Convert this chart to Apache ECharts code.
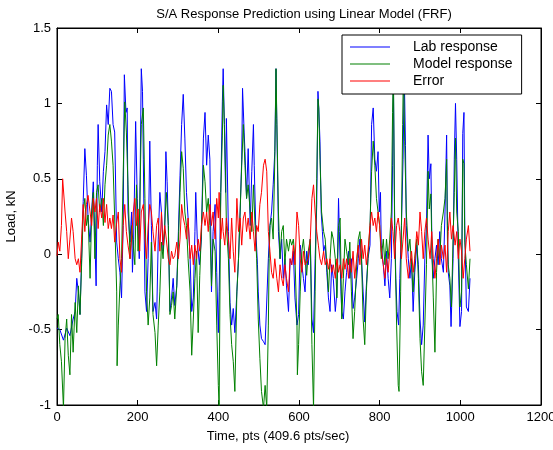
<!DOCTYPE html>
<html><head><meta charset="utf-8">
<script src="https://cdn.jsdelivr.net/npm/echarts@6/dist/echarts.min.js"></script>
<style>html,body{margin:0;padding:0;background:#fff}#c{width:553px;height:450px}</style>
</head><body><div id="c"></div>
<script>
const titleText = 'S/A Response Prediction using Linear Model (FRF)';
const xName = 'Time, pts (409.6 pts/sec)';
const yName = 'Load, kN';
const seriesNames = ['Lab response', 'Model response', 'Error'];
const xTicks = [0, 200, 400, 600, 800, 1000, 1200];
const yTicks = [-1, -0.5, 0, 0.5, 1, 1.5];

const labResponse = [[0,-0.49],[7,-0.50],[16,-0.57],[24,-0.49],[32,-0.54],[40,-0.43],[45,-0.38],[49,-0.16],[53,-0.25],[57,-0.40],[61,-0.03],[65,0.35],[69,0.70],[73,0.52],[77,0.24],[82,0.08],[86,0.28],[90,0.48],[94,0.10],[97,-0.21],[100,0.59],[102,0.86],[106,0.48],[111,0.28],[115,0.55],[119,0.68],[123,0.99],[127,0.86],
[131,1.10],[135,1.08],[139,0.86],[143,0.81],[148,0.08],[152,-0.03],[156,-0.12],[160,-0.29],[164,0.19],[167,1.19],[171,0.94],[174,0.97],[176,0.28],[181,0.08],[185,0.28],[187,-0.12],[190,0.10],[195,0.88],[199,0.37],[204,-0.03],[209,1.23],[212,1.08],[214,0.63],[218,-0.25],[222,-0.38],[226,-0.03],[230,0.75],[234,0.19],[238,-0.38],[243,-0.32],[247,-0.43],[251,0.10],[255,0.41],[259,0.28],[263,0.02],[267,0.15],[270,0.68],[273,0.48],[276,0.19],
[280,-0.38],[284,-0.29],[288,-0.16],[292,-0.34],[297,-0.21],[301,0.15],[305,0.52],[309,0.86],[313,1.06],[317,0.77],[321,0.41],[325,0.24],[330,-0.03],[334,-0.38],[338,-0.29],[342,0.15],[344,0.41],[348,0.08],[353,-0.07],[358,0.10],[363,0.77],[367,0.94],[371,0.59],[375,0.79],[379,0.63],[383,-0.25],[387,0.15],[392,0.33],[396,-0.12],[400,-0.52],[402,-0.25],[406,0.41],[410,1.01],[412,1.23],[415,0.86],[418,0.41],[420,0.90],[425,0.15],
[429,-0.32],[433,-0.47],[437,-0.36],[441,-0.52],[446,-0.25],[450,-0.03],[454,0.28],[458,0.63],[460,1.10],[464,0.81],[466,0.68],[470,0.37],[474,0.70],[479,0.19],[483,0.55],[487,0.86],[489,0.59],[493,0.15],[497,-0.07],[499,-0.25],[503,-0.47],[507,-0.56],[512,-0.58],[516,-0.60],[520,-0.60],[524,-0.03],[528,0.19],[532,0.28],[536,0.46],[540,0.68],[543,1.23],[545,0.86],[549,0.15],[553,-0.03],[557,0.10],[561,-0.16],[565,-0.03],[569,-0.21],[574,-0.38],
[578,-0.03],[582,-0.07],[586,0.02],[590,-0.29],[595,-0.47],[599,-0.40],[603,0.06],[607,-0.07],[611,-0.16],[615,-0.25],[619,0.02],[623,-0.07],[628,0.10],[632,-0.43],[636,-0.52],[640,-0.03],[644,0.33],[647,1.08],[649,0.97],[652,0.75],[655,0.28],[658,0.15],[661,0.02],[665,0.06],[669,-0.12],[673,-0.29],[677,-0.38],[681,-0.07],[685,-0.16],[690,-0.38],[694,-0.25],[698,0.37],[700,0.15],[704,-0.25],[706,-0.38],[710,-0.43],[714,-0.25],[718,-0.12],[723,0.02],
[726,-0.16],[730,-0.03],[734,-0.36],[738,-0.29],[743,-0.16],[747,-0.03],[751,0.10],[755,-0.03],[759,-0.25],[763,-0.45],[767,-0.21],[771,-0.03],[776,0.06],[780,0.86],[784,0.97],[788,0.63],[792,0.55],[796,0.68],[799,0.28],[802,0.41],[804,0.06],[809,-0.07],[813,-0.21],[817,0.02],[821,-0.16],[825,-0.29],[829,-0.03],[832,0.59],[834,1.17],[837,0.28],[840,-0.16],[843,-0.38],[847,-0.47],[850,-0.16],[854,0.19],[858,0.63],[861,1.19],[864,0.72],[866,0.19],[871,-0.03],
[875,-0.16],[879,-0.03],[883,-0.38],[887,-0.12],[892,0.06],[896,-0.07],[900,-0.43],[904,-0.60],[908,-0.47],[912,-0.03],[916,0.19],[920,0.79],[923,0.50],[927,0.60],[930,-0.03],[933,-0.16],[937,-0.03],[941,0.06],[945,-0.07],[949,0.15],[953,-0.03],[958,-0.12],[962,0.28],[966,0.79],[968,0.19],[970,-0.12],[974,-0.21],[977,-0.48],[982,-0.03],[985,0.63],[988,1.00],[991,0.63],[995,-0.03],[999,-0.48],[1003,-0.38],[1006,0.80],[1009,0.94],[1011,0.19],[1015,-0.35],[1020,-0.38],[1024,-0.16]];

const modelResponse = [[0,-0.43],[3,-0.40],[7,-0.60],[11,-0.71],[16,-1.02],[20,-0.56],[24,-0.43],[28,-0.67],[32,-0.80],[36,-0.40],[40,-0.65],[45,-0.32],[49,-0.52],[53,-0.21],[57,-0.40],[61,-0.07],[65,0.28],[69,0.37],[73,0.19],[77,0.26],[82,-0.16],[86,0.28],[90,0.41],[94,-0.03],[98,0.41],[102,0.46],[106,0.28],[111,0.37],[115,0.19],[119,0.46],[123,0.59],[127,0.79],
[131,0.86],[135,0.75],[139,0.59],[143,0.24],[148,-0.25],[149,-0.74],[152,-0.47],[156,-0.21],[160,-0.03],[164,0.52],[168,1.01],[172,0.81],[176,0.46],[181,-0.03],[185,0.19],[189,0.06],[193,-0.07],[197,0.46],[201,0.02],[205,0.28],[209,0.86],[214,0.97],[218,0.37],[222,-0.25],[226,-0.47],[230,-0.29],[234,0.08],[238,-0.40],[243,-0.52],[247,-0.74],[251,-0.47],[255,-0.25],[259,0.08],[263,-0.03],[267,0.19],[271,0.41],[276,0.19],
[280,-0.40],[284,-0.34],[288,-0.25],[292,-0.43],[297,-0.21],[301,0.08],[305,0.41],[309,0.68],[313,0.57],[317,0.28],[321,0.19],[325,-0.03],[330,-0.25],[334,-0.67],[338,-0.43],[342,-0.16],[346,0.02],[350,-0.52],[354,-0.14],[358,0.15],[363,0.59],[367,0.48],[371,0.28],[375,0.37],[379,0.19],[383,-0.21],[387,0.10],[392,0.02],[396,-0.47],[400,-0.87],[402,-1.02],[404,-0.25],[406,0.41],[410,0.79],[412,1.12],[415,0.86],[418,0.52],[420,0.19],[425,-0.03],
[429,-0.40],[433,-0.60],[437,-0.71],[441,-0.91],[446,-0.25],[450,-0.03],[454,0.28],[458,0.59],[462,0.86],[466,0.59],[470,0.37],[474,0.46],[479,0.28],[483,0.15],[487,0.46],[491,0.19],[495,-0.03],[499,-0.43],[503,-0.69],[507,-0.91],[512,-1.02],[516,-0.87],[520,-1.02],[524,-0.47],[526,-0.03],[528,0.19],[532,0.24],[536,0.10],[540,0.63],[543,1.23],[545,0.90],[549,0.28],[553,-0.03],[557,0.15],[561,0.19],[565,-0.07],[569,0.10],[574,0.02],
[578,0.10],[582,0.06],[586,0.10],[590,-0.03],[595,-0.47],[596,-0.80],[599,-0.60],[603,-0.25],[607,0.02],[611,0.10],[615,-0.03],[619,-0.14],[623,0.02],[628,0.10],[632,-0.60],[636,-1.02],[640,-0.25],[644,0.50],[647,1.03],[649,0.97],[652,0.63],[656,0.28],[661,0.15],[665,0.10],[669,-0.07],[673,-0.25],[677,-0.03],[681,0.15],[685,0.10],[690,-0.03],[694,-0.29],[698,0.19],[702,0.24],[706,-0.43],[710,-0.16],[714,0.10],[718,0.02],[723,-0.07],
[726,0.08],[730,-0.25],[734,-0.56],[738,-0.38],[743,-0.07],[747,0.10],[751,0.15],[755,-0.03],[759,-0.43],[763,-0.60],[767,-0.25],[771,-0.03],[776,0.19],[780,0.55],[784,0.75],[788,0.59],[792,0.37],[796,0.28],[800,0.19],[804,-0.03],[809,0.10],[813,-0.07],[817,0.10],[821,-0.03],[825,0.10],[829,0.28],[832,0.94],[834,1.25],[837,0.19],[842,-0.47],[846,-0.87],[848,-0.91],[852,-0.25],[854,0.19],[857,0.86],[859,1.25],[862,0.75],[866,0.28],[871,0.02],
[875,0.10],[879,-0.07],[883,-0.25],[887,-0.03],[892,0.10],[896,-0.16],[900,-0.56],[904,-0.78],[908,-0.87],[912,-0.47],[916,-0.07],[920,0.55],[923,0.30],[927,0.40],[930,-0.03],[933,-0.29],[937,-0.65],[941,-0.12],[945,0.10],[949,-0.03],[953,0.19],[958,0.28],[962,0.37],[966,0.63],[968,0.10],[970,-0.07],[974,-0.16],[978,-0.35],[982,0.10],[985,0.41],[988,0.77],[991,0.28],[995,0.15],[999,-0.35],[1003,-0.25],[1006,0.63],[1009,0.60],[1011,0.08],[1015,-0.07],[1020,-0.23],[1024,-0.03]];

const errorSignal = [[0,-0.01],[3,0.08],[7,0.02],[11,0.19],[14,0.50],[17,0.50],[20,0.28],[24,0.15],[28,-0.03],[32,0.10],[36,0.24],[40,0.15],[45,-0.03],[49,-0.07],[53,-0.03],[57,-0.12],[61,0.10],[65,0.33],[69,0.15],[73,0.33],[77,0.39],[82,0.28],[86,0.19],[90,0.37],[94,0.28],[98,0.37],[102,0.17],[106,0.33],[111,0.24],[115,0.37],[119,0.21],[123,0.33],[127,0.17],
[131,0.24],[135,0.17],[139,0.26],[143,0.08],[148,0.21],[152,0.28],[156,-0.03],[160,-0.12],[164,0.19],[168,0.33],[172,0.15],[176,0.06],[181,-0.03],[185,0.10],[189,0.28],[193,0.37],[197,0.19],[201,0.30],[205,0.02],[209,0.28],[214,0.33],[218,0.10],[222,-0.03],[226,0.19],[230,0.33],[234,0.28],[238,0.15],[243,0.02],[247,0.19],[251,0.24],[255,0.02],[259,0.28],[263,0.06],[267,0.19],[271,0.10],[276,-0.03],
[280,-0.07],[284,0.02],[288,-0.03],[292,-0.01],[297,0.08],[301,-0.03],[305,0.10],[309,0.33],[313,0.24],[317,0.19],[321,0.10],[325,0.24],[330,-0.03],[334,0.06],[338,-0.07],[342,0.06],[346,-0.03],[350,0.10],[354,0.02],[358,0.19],[363,0.28],[367,0.19],[371,0.28],[375,0.15],[379,0.33],[383,0.19],[387,0.28],[392,0.10],[396,0.37],[400,0.24],[402,0.41],[406,0.10],[410,0.24],[412,0.15],[416,0.06],[420,0.24],[425,0.10],
[429,-0.03],[433,0.24],[437,0.02],[441,-0.12],[446,0.37],[450,0.15],[454,0.24],[458,0.06],[462,0.24],[466,0.28],[470,0.15],[474,0.24],[479,0.10],[483,0.28],[487,0.15],[491,0.02],[495,0.19],[499,0.15],[503,0.33],[507,0.41],[512,0.59],[516,0.63],[520,0.55],[524,0.15],[528,0.02],[532,-0.12],[536,-0.16],[540,-0.03],[545,-0.16],[549,-0.25],[553,-0.07],[557,-0.16],[561,-0.21],[565,-0.07],[569,-0.16],[574,-0.25],
[578,-0.03],[582,-0.07],[586,0.06],[590,-0.07],[595,0.28],[599,0.19],[603,-0.03],[607,-0.12],[611,0.02],[615,-0.07],[619,-0.07],[623,-0.03],[628,0.10],[632,0.37],[636,0.46],[640,0.28],[644,0.15],[648,0.06],[652,-0.03],[656,-0.07],[661,0.02],[665,-0.07],[669,-0.03],[673,-0.10],[677,-0.03],[681,-0.12],[685,-0.07],[690,-0.16],[694,-0.03],[698,-0.12],[702,-0.07],[706,-0.16],[710,-0.03],[714,-0.10],[718,-0.03],[723,-0.16],
[726,-0.03],[730,-0.12],[734,0.02],[738,-0.16],[743,-0.03],[747,0.06],[751,-0.07],[755,0.10],[759,-0.03],[763,0.06],[767,-0.07],[771,0.02],[776,0.19],[780,0.28],[784,0.19],[788,0.24],[792,0.15],[796,0.28],[800,0.19],[804,0.02],[809,-0.07],[813,-0.16],[817,-0.03],[821,-0.12],[825,0.02],[829,0.24],[833,0.15],[837,-0.03],[842,0.19],[846,0.24],[850,0.15],[854,-0.03],[858,0.10],[862,0.24],[866,-0.03],[871,-0.16],
[875,-0.07],[879,0.02],[883,-0.12],[887,-0.03],[892,0.15],[896,0.06],[900,0.28],[904,0.15],[908,-0.03],[912,0.15],[916,0.24],[920,0.10],[925,-0.03],[929,0.15],[933,-0.03],[937,-0.16],[941,-0.03],[945,0.10],[949,-0.07],[953,0.06],[958,-0.03],[962,0.06],[966,-0.12],[970,0.15],[974,0.28],[978,0.10],[982,0.19],[987,0.06],[991,0.15],[995,-0.03],[999,0.10],[1003,0.02],[1007,-0.16],[1011,-0.03],[1015,0.10],[1020,0.19],[1024,0.02]];

const seriesColors = ['#0000ff', '#008000', '#ff0000'];
const FONT = '"Liberation Sans", Arial, sans-serif';

const chart = echarts.init(document.getElementById('c'), null, {renderer: 'canvas'});
const tickFmt = v => String(v);
const baseAxis = {
  axisLine: {show: true, onZero: false, lineStyle: {color: '#000', width: 1}},
  axisTick: {show: true, inside: true, length: 5, lineStyle: {color: '#000'}},
  splitLine: {show: false}
};
chart.setOption({
  animation: false,
  backgroundColor: '#fff',
  title: {text: titleText, left: 299, textAlign: 'center', top: 3,
    textStyle: {fontFamily: FONT, fontSize: 13, fontWeight: 'normal', color: '#000'}},
  grid: {left: 57, right: 12, top: 28, bottom: 45, show: true, borderColor: '#000', borderWidth: 1,
    backgroundColor: '#fff', containLabel: false, outerBoundsMode: 'none'},
  legend: {
    data: seriesNames, orient: 'vertical', left: 342, top: 35, icon: 'rect',
    backgroundColor: '#fff', borderColor: '#000', borderWidth: 1, borderRadius: 0,
    padding: [4, 9, 5, 8], itemGap: 1, itemWidth: 40, itemHeight: 1,
    textStyle: {fontFamily: FONT, fontSize: 14, color: '#000', lineHeight: 16, padding: [0, 0, 0, 18]},
    z: 10
  },
  xAxis: [
    Object.assign({}, baseAxis, {type: 'value', min: xTicks[0], max: xTicks[xTicks.length-1], interval: 200, position: 'bottom',
      name: xName, nameLocation: 'middle', nameGap: 25,
      nameTextStyle: {fontFamily: FONT, fontSize: 13, color: '#000', padding: [0, 42, 0, 0]},
      axisLabel: {color: '#000', fontFamily: FONT, fontSize: 13, margin: 6, formatter: tickFmt}}),
    Object.assign({}, baseAxis, {type: 'value', min: xTicks[0], max: xTicks[xTicks.length-1], interval: 200, position: 'top',
      axisLabel: {show: false}})
  ],
  yAxis: [
    Object.assign({}, baseAxis, {type: 'value', min: yTicks[0], max: yTicks[yTicks.length-1], interval: 0.5, position: 'left',
      name: yName, nameLocation: 'middle', nameGap: 36,
      nameTextStyle: {fontFamily: FONT, fontSize: 13, color: '#000'},
      axisLabel: {color: '#000', fontFamily: FONT, fontSize: 13, margin: 6, formatter: tickFmt}}),
    Object.assign({}, baseAxis, {type: 'value', min: yTicks[0], max: yTicks[yTicks.length-1], interval: 0.5, position: 'right',
      axisLabel: {show: false}})
  ],
  series: [labResponse, modelResponse, errorSignal].map((d, i) => ({
    name: seriesNames[i], type: 'line', data: d, symbol: 'none', showSymbol: false,
    lineStyle: {color: seriesColors[i], width: 1}, itemStyle: {color: seriesColors[i]},
    clip: true, xAxisIndex: 0, yAxisIndex: 0, z: 2 + i
  }))
});
</script>
</body></html>
